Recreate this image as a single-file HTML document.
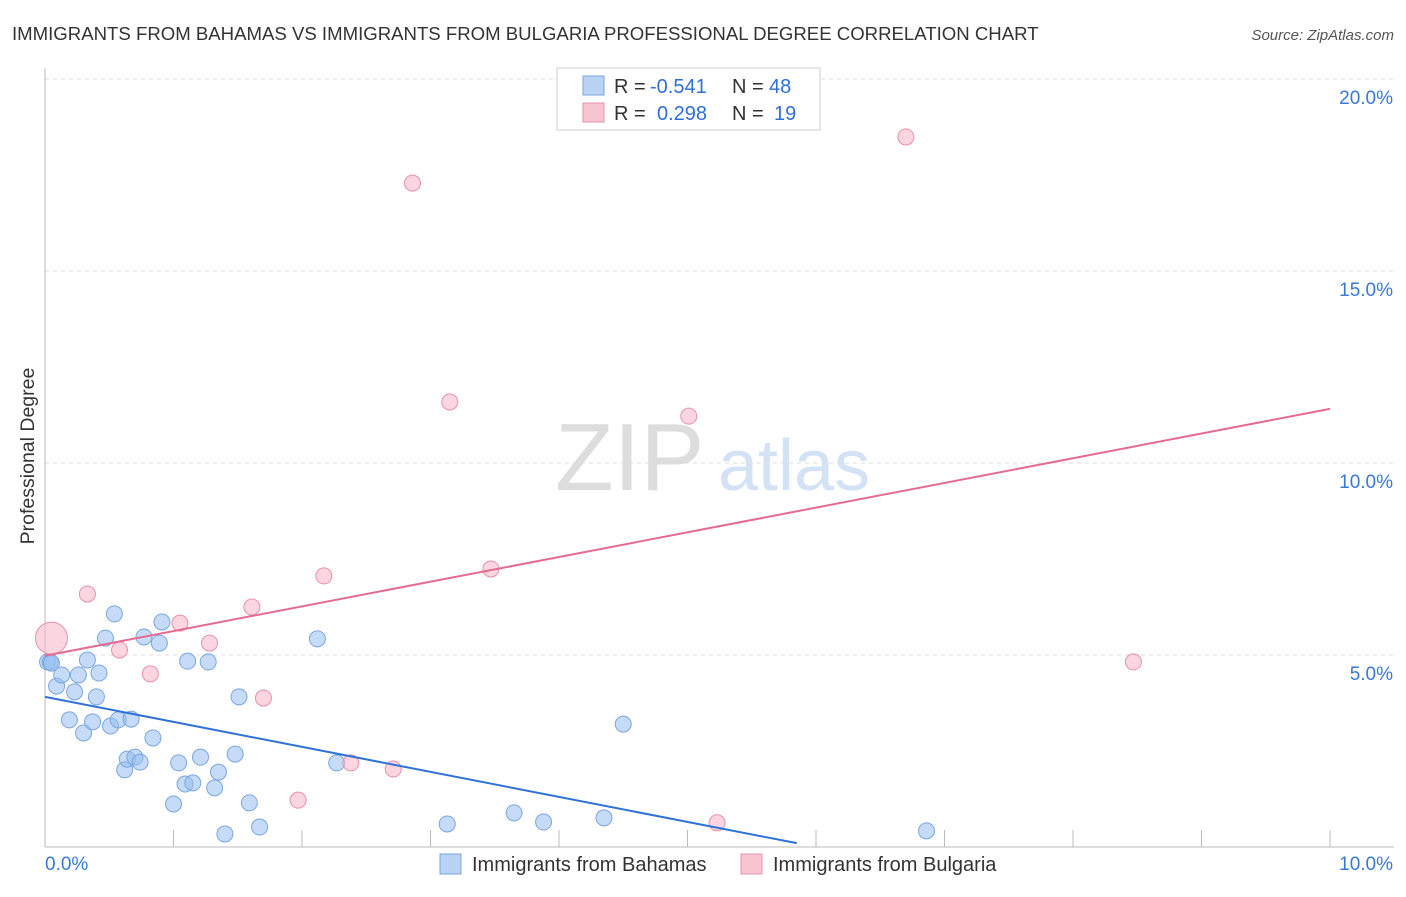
<!DOCTYPE html>
<html><head><meta charset="utf-8"><style>
body{margin:0;background:#fff;font-family:"Liberation Sans",sans-serif;}
svg text{font-family:"Liberation Sans",sans-serif;}
</style></head><body>
<svg id="chart" width="1406" height="892" xmlns="http://www.w3.org/2000/svg">
<text x="12" y="40" font-size="18.6" fill="#333">IMMIGRANTS FROM BAHAMAS VS IMMIGRANTS FROM BULGARIA PROFESSIONAL DEGREE CORRELATION CHART</text>
<text x="1394" y="40" font-size="15" fill="#555" font-style="italic" text-anchor="end">Source: ZipAtlas.com</text>
<text x="555" y="490" font-size="96" fill="#ddd" font-family="Liberation Serif">ZIP</text>
<text x="718" y="490" font-size="72" fill="#d3e2f5">atlas</text>
<g id="grid"></g>
<g id="axes"></g>
<g id="marks"></g>
<text transform="translate(34,456) rotate(-90)" font-size="19.5" fill="#333" text-anchor="middle">Professional Degree</text>
<g>
<rect x="557" y="68" width="263" height="62" fill="#fff" stroke="#ccc"/>
<rect x="583" y="76" width="21" height="19" fill="#b9d3f5" stroke="#7aa6e0"/>
<rect x="583" y="103" width="21" height="19" fill="#f9c5d3" stroke="#e890a8"/>
<text x="614" y="93" font-size="20" fill="#333">R =</text>
<text x="650" y="93" font-size="20" fill="#2f6fd6">-0.541</text>
<text x="732" y="93" font-size="20" fill="#333">N =</text>
<text x="769" y="93" font-size="20" fill="#2f6fd6">48</text>
<text x="614" y="120" font-size="20" fill="#333">R =</text>
<text x="657" y="120" font-size="20" fill="#2f6fd6">0.298</text>
<text x="732" y="120" font-size="20" fill="#333">N =</text>
<text x="774" y="120" font-size="20" fill="#2f6fd6">19</text>
</g>
<g>
<rect x="440" y="854" width="21" height="20" fill="#b9d3f5" stroke="#7aa6e0"/>
<text x="472" y="871" font-size="20" fill="#333">Immigrants from Bahamas</text>
<rect x="741" y="854" width="21" height="20" fill="#f9c5d3" stroke="#e890a8"/>
<text x="773" y="871" font-size="20" fill="#333">Immigrants from Bulgaria</text>
</g>
</svg>
<script>
const blueX=[0.02,0.04,0.05,0.09,0.13,0.19,0.23,0.26,0.30,0.33,0.37,0.40,0.42,0.47,0.51,0.54,0.57,0.62,0.64,0.67,0.70,0.74,0.77,0.84,0.89,0.91,1.00,1.04,1.09,1.11,1.15,1.21,1.27,1.32,1.35,1.40,1.48,1.51,1.59,1.67,2.12,2.27,3.13,3.65,3.88,4.35,4.50,6.86];
const blueY=[4.82,4.82,4.79,4.19,4.48,3.31,4.04,4.48,2.97,4.87,3.26,3.91,4.53,5.44,3.15,6.07,3.31,2.01,2.29,3.33,2.34,2.21,5.47,2.84,5.31,5.86,1.12,2.19,1.64,4.84,1.67,2.34,4.82,1.54,1.95,0.34,2.42,3.91,1.15,0.52,5.42,2.19,0.60,0.89,0.65,0.76,3.20,0.42];
const pinkX=[0.05,0.33,0.58,0.82,1.05,1.28,1.61,1.70,1.97,2.17,2.38,2.71,2.86,3.15,3.47,5.01,5.23,6.70,8.47];
const pinkY=[5.44,6.59,5.13,4.51,5.83,5.31,6.25,3.88,1.22,7.06,2.19,2.03,17.29,11.59,7.24,11.22,0.63,18.49,4.82];
const pinkR=[16,8,8,8,8,8,8,8,8,8,8,8,8,8,8,8,8,8,8];
const blueTrend=[[0,3.91],[5.85,0.10]];
const pinkTrend=[[0,4.98],[10,11.41]];
const yTicks=[5,10,15,20];
const yTickLabels=["5.0%","10.0%","15.0%","20.0%"];
const xTicks=[0,1,2,3,4,5,6,7,8,9,10];
const NS="http://www.w3.org/2000/svg";
const sx=v=>45+v*128.5, sy=v=>847-v*38.4;
function mk(tag,attrs,parent){const e=document.createElementNS(NS,tag);for(const k in attrs)e.setAttribute(k,attrs[k]);document.getElementById(parent).appendChild(e);return e;}
yTicks.forEach((t,i)=>{
 const l=mk('line',{x1:45,x2:1394,y1:sy(t),y2:sy(t),stroke:'#ddd','stroke-dasharray':'4,4'},'grid');
 
 
 const tx=mk('text',{x:1393,y:sy(t)+25,'font-size':19,fill:'#3a78d8','text-anchor':'end'},'grid');
 tx.textContent=yTickLabels[i];
 
 
});
let a=mk('line',{x1:45,x2:45,y1:68,y2:847,stroke:'#bbb'},'axes');


a=mk('line',{x1:45,x2:1394,y1:847,y2:847,stroke:'#bbb'},'axes');


xTicks.forEach(t=>{
 const l=mk('line',{x1:sx(t),x2:sx(t),y1:830,y2:847,stroke:'#bbb'},'axes');
 
 
});
let t0=mk('text',{x:45,y:870,'font-size':19,fill:'#3a78d8'},'axes');t0.textContent='0.0%';


let t1=mk('text',{x:1393,y:870,'font-size':19,fill:'#3a78d8','text-anchor':'end'},'axes');t1.textContent='10.0%';


blueX.forEach((x,i)=>{
 const c=mk('circle',{cx:sx(x),cy:sy(blueY[i]),r:8,fill:'rgba(150,190,240,0.55)',stroke:'#7aa6e0','stroke-width':1},'marks');
 
 
});
pinkX.forEach((x,i)=>{
 const c=mk('circle',{cx:sx(x),cy:sy(pinkY[i]),r:pinkR[i],fill:'rgba(248,180,200,0.55)',stroke:'#e890a8','stroke-width':1},'marks');
 
 
});
let bl=mk('line',{x1:sx(blueTrend[0][0]),y1:sy(blueTrend[0][1]),x2:sx(blueTrend[1][0]),y2:sy(blueTrend[1][1]),stroke:'#2f72d6','stroke-width':2},'marks');


let pl=mk('line',{x1:sx(pinkTrend[0][0]),y1:sy(pinkTrend[0][1]),x2:sx(pinkTrend[1][0]),y2:sy(pinkTrend[1][1]),stroke:'#e56b93','stroke-width':2},'marks');


</script>
</body></html>
